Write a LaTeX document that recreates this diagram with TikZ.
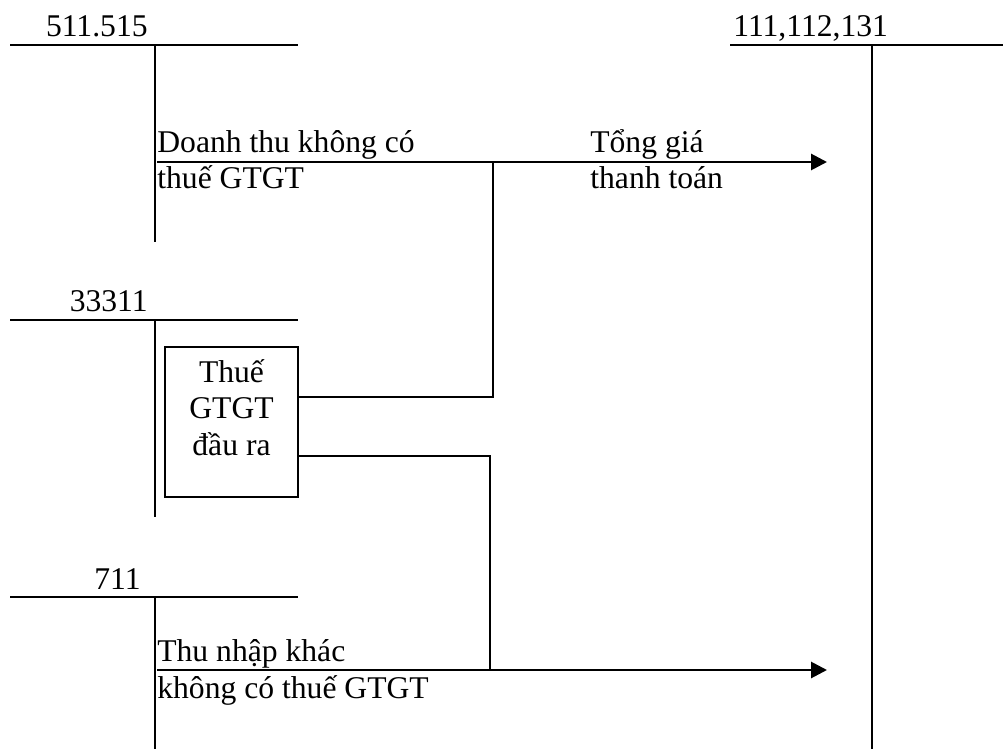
\documentclass[tikz,border=0pt]{standalone}
\usepackage{fontspec}
\setmainfont{Liberation Serif}
\usetikzlibrary{arrows.meta, positioning}
\tikzset{
  acct/.style={line width=1.6pt},
  link/.style={line width=1.6pt},
  flow/.style={line width=1.6pt, -{Triangle[length=9pt, width=9pt]}},
  vatbox/.style={draw, line width=1.3pt, minimum width=2.66cm, minimum height=3cm, inner sep=0pt},
  txt/.style={font=\fontsize{18}{20.5}\selectfont, inner sep=0pt},
}

\begin{document}
\begin{tikzpicture}[x=0.02cm, y=-0.02cm]
    \useasboundingbox (0,0) rectangle (1003,749);

    % T-accounts on the left
    \foreach \yt/\yb/\lx/\acc in {45/242/148/511.515, 320/517/148/33311, 597/749/141/711} {
        \draw[acct] (10,\yt) -- (298,\yt);
        \draw[acct] (155,\yt) -- (155,\yb);
        \node[txt, anchor=base east] (acc\yt) at (\lx,\yt-8) {\acc};
    }

    % T-account on the right
    \draw[acct] (730,45) -- (1003,45);
    \draw[acct] (872,45) -- (872,749);
    \node[txt, anchor=base west] (cash) at (733,37) {111,112,131};

    % Output VAT box
    \node[vatbox] (vat) at (231.5,422) {};
    \node[txt, align=center, anchor=base] (vattxt) at (231.5,455) {Thuế\\GTGT\\đầu ra};

    % Revenue flow
    \coordinate (revL) at (157,162);
    \coordinate (revR) at (827,162);
    \coordinate (jTop) at (493,162);
    \draw[flow] (revL) -- (revR);
    \node[txt, align=left, anchor=base west] (revtxt) at (157,189) {Doanh thu không có\\thuế GTGT};
    \node[txt, align=left, anchor=base west] (totaltxt) at (590,189) {Tổng giá\\thanh toán};

    % Other income flow
    \coordinate (othL) at (157,670);
    \coordinate (othR) at (827,670);
    \coordinate (jBot) at (490,670);
    \draw[flow] (othL) -- (othR);
    \node[txt, align=left, anchor=base west] (othtxt) at (157,698) {Thu nhập khác\\không có thuế GTGT};

    % VAT links
    \coordinate (vatHi) at (vat.east |- 0,397);
    \coordinate (vatLo) at (vat.east |- 0,456);
    \draw[link] (vatHi) -| (jTop);
    \draw[link] (vatLo) -| (jBot);
\end{tikzpicture}
\end{document}
